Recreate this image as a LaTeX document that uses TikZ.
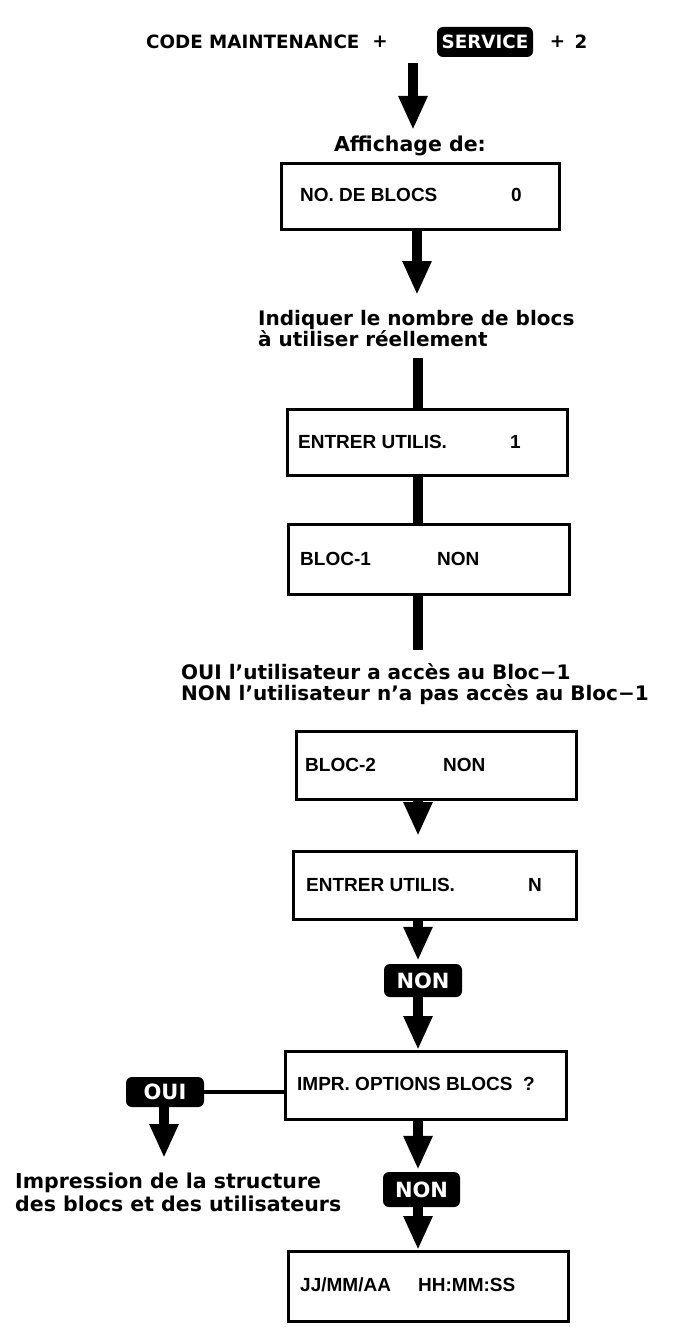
\documentclass[tikz,border=0pt]{standalone}
\usepackage{fontspec}
\setmainfont{Liberation Sans}
\newfontfamily\wide{DejaVu Sans}
\usetikzlibrary{arrows.meta}
\begin{document}
\begin{tikzpicture}[x=1pt,y=-1pt,
  panel/.style={draw, line width=3pt, inner sep=0pt, anchor=north west},
  boxtxt/.style={font=\bfseries\fontsize{19}{19}\selectfont, inner sep=0pt, anchor=west},
  note/.style={font=\wide\bfseries\fontsize{20}{21}\selectfont, inner sep=0pt, anchor=base west},
  ttl/.style={font=\wide\bfseries\fontsize{18.3}{18.3}\selectfont, inner sep=0pt},
  tag/.style={fill=black, text=white, rounded corners=6pt, inner sep=0pt,
              font=\wide\bfseries\fontsize{21}{21}\selectfont},
  bar/.style={line width=10pt},
  flow/.style={line width=10pt, -{Triangle[length=34pt,width=27pt]}},
  link/.style={line width=4.5pt},
]
\useasboundingbox (0,0) rectangle (680,1327);

% spine of the flow chart
\coordinate (sp) at (418,0);

% heading line
\node[ttl, anchor=west] (t1) at (146,42) {CODE MAINTENANCE};
\node[ttl] (tp1) at (380,42) {+};
\node[tag, minimum width=96pt, minimum height=30pt, font=\wide\bfseries\fontsize{18.3}{18.3}\selectfont] (svc) at (485,42) {SERVICE};
\node[ttl] (tp2) at (557.5,42) {+};
\node[ttl] (t2) at (581,42) {2};

\coordinate (a1s) at (413,63);
\coordinate (a1e) at (413,130);
\draw[flow] (a1s) -- (a1e);

\node[note, anchor=center, font=\wide\bfseries\fontsize{20.5}{21}\selectfont] (aff) at (410,146) {Affichage de:};

% block count display
\node[panel, minimum width=278pt, minimum height=66pt] (b1) at (280,162) {};
\node[boxtxt] (b1a) at (300,195) {NO. DE BLOCS};
\node[boxtxt] (b1b) at (511,195) {0};

\coordinate (a2e) at (417,295);
\draw[flow] (b1.south -| a2e) -- (a2e);

\node[note] (ind1) at (258,325) {Indiquer le nombre de blocs};
\node[note] (ind2) at (258,346) {à utiliser réellement};

% user entry
\node[panel, minimum width=280pt, minimum height=66pt] (b2) at (286,408) {};
\node[boxtxt] (b2a) at (298,442) {ENTRER UTILIS.};
\node[boxtxt] (b2b) at (510,442) {1};
\coordinate (l1s) at (418,358);
\draw[bar] (l1s) -- (b2.north -| l1s);

% block 1 access
\node[panel, minimum width=281pt, minimum height=70pt] (b3) at (287,523) {};
\node[boxtxt] (b3a) at (300,559) {BLOC-1};
\node[boxtxt] (b3b) at (437,559) {NON};
\draw[bar] (b2.south -| sp) -- (b3.north -| sp);

\coordinate (l2e) at (418,650);
\draw[bar] (b3.south -| sp) -- (l2e);

\node[note] (oui1) at (181,679) {OUI l’utilisateur a accès au Bloc−1};
\node[note] (non1) at (181,700) {NON l’utilisateur n’a pas accès au Bloc−1};

% block 2 access
\node[panel, minimum width=280pt, minimum height=68pt] (b4) at (295,730) {};
\node[boxtxt] (b4a) at (305,765) {BLOC-2};
\node[boxtxt] (b4b) at (443,765) {NON};

% next user
\node[panel, minimum width=283pt, minimum height=68pt] (b5) at (292,850) {};
\node[boxtxt] (b5a) at (306,885) {ENTRER UTILIS.};
\node[boxtxt] (b5b) at (528,885) {N};
\draw[flow, shorten >=14pt] (b4.south -| sp) -- (b5.north -| sp);

\node[tag, minimum width=78pt, minimum height=33pt] (tn1) at (423,980.5) {NON};
\draw[flow, shorten >=3pt] (b5.south -| sp) -- (tn1.north -| sp);

% print question
\node[panel, minimum width=281pt, minimum height=68pt] (b6) at (284,1050) {};
\node[boxtxt] (b6a) at (297,1084) {IMPR. OPTIONS BLOCS \ ?};
\draw[flow] (tn1.south -| sp) -- (b6.north -| sp);

\node[tag, minimum width=78pt, minimum height=30pt] (tyes) at (165,1092) {OUI};
\draw[link] (tyes.east) -- (tyes.east -| b6.west);
\coordinate (a3e) at (164,1158);
\draw[flow] (tyes.south -| a3e) -- (a3e);

\node[note, font=\wide\bfseries\fontsize{20.5}{22}\selectfont] (imp1) at (15,1188) {Impression de la structure};
\node[note, font=\wide\bfseries\fontsize{20.5}{22}\selectfont] (imp2) at (15,1211) {des blocs et des utilisateurs};

\node[tag, minimum width=77pt, minimum height=35pt] (tn2) at (421.5,1189.5) {NON};
\draw[flow, shorten >=2pt] (b6.south -| sp) -- (tn2.north -| sp);

% date and time display
\node[panel, minimum width=280pt, minimum height=70pt] (b7) at (287,1250) {};
\node[boxtxt] (b7a) at (300,1285) {JJ/MM/AA};
\node[boxtxt] (b7b) at (418,1285) {HH:MM:SS};
\draw[flow] (tn2.south -| sp) -- (b7.north -| sp);
\end{tikzpicture}
\end{document}
